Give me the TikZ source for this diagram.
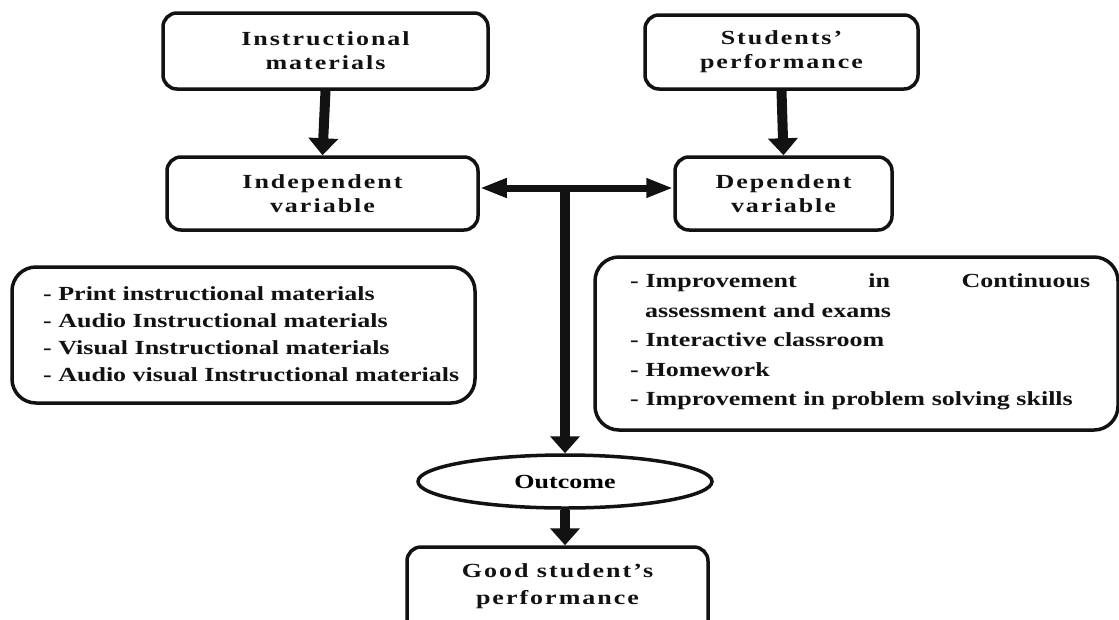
\documentclass[tikz,border=0pt]{standalone}
\usepackage{fontspec}
\setmainfont{Liberation Serif}[FakeStretch=1.3]
\newfontfamily\titlefont{Liberation Serif}[FakeStretch=1.3,LetterSpace=10]
\usetikzlibrary{arrows.meta,shapes.geometric}
\tikzset{
  box/.style={draw=black!93, line width=3.5pt, rounded corners=14pt, align=center, inner sep=0pt,
    font=\titlefont\bfseries\fontsize{20}{24}\selectfont, text=black!93},
  listbox/.style={draw=black!93, line width=3.5pt, rounded corners=24pt, inner sep=0pt},
  listtext/.style={inner sep=0pt, align=left, anchor=west, text=black!93},
  varrow/.style={draw=black!93, line width=10pt, -{Triangle[length=17pt,width=29pt]}},
  harrow/.style={draw=black!93, line width=7pt, {Triangle[length=27pt,width=18pt]}-{Triangle[length=27pt,width=18pt]}},
  vline/.style={draw=black!93, line width=10pt, -{Triangle[length=17pt,width=29pt]}},
}
\begin{document}
\begin{tikzpicture}[x=1pt,y=-1pt]
\clip (0,0) rectangle (1119,619);
\fill[white] (0,0) rectangle (1119,619);
% title boxes
\node[box, minimum width=325pt, minimum height=76pt] (im) at (325.5,51) {Instructional\\materials};
\node[box, minimum width=273pt, minimum height=74pt] (sp) at (781.5,52) {Students’\\performance};
\node[box, minimum width=311pt, minimum height=73pt] (iv) at (322.5,193.5) {Independent\\variable};
\node[box, minimum width=217pt, minimum height=73pt] (dv) at (783.5,193.5) {Dependent\\variable};
% list boxes
\node[listbox, minimum width=463pt, minimum height=136pt] (il) at (243.5,335) {};
\node[listtext, font=\bfseries\fontsize{20}{27}\selectfont] (iltext) at (43,334)
  {- Print instructional materials\\- Audio Instructional materials\\- Visual Instructional materials\\- Audio visual Instructional materials};
\node[listbox, minimum width=523pt, minimum height=173pt] (dl) at (856.5,343.5) {};
\node[listtext, text width=460pt, font=\bfseries\fontsize{20}{29.5}\selectfont] (dltext) at (630,342)
  {\hbox to \linewidth{- Improvement\hfill in\hfill Continuous}\\\hspace*{15pt}assessment and exams\\- Interactive classroom\\- Homework\\- Improvement in problem solving skills};
% outcome
\node[draw=black!93, line width=3.5pt, ellipse, minimum width=294pt, minimum height=53pt, inner sep=0pt,
  font=\bfseries\fontsize{20}{24}\selectfont] (out) at (565,481.5) {Outcome};
\node[box, minimum width=301pt, minimum height=133pt] (good) at (557.5,613.5) {};
\node[inner sep=0pt, align=center, font=\titlefont\bfseries\fontsize{20}{27}\selectfont, text=black!93] (goodtext) at (557.5,586) {Good student’s\\performance};
% connectors
\coordinate (j) at (565,188);
\draw[varrow] (im.south) -- (iv.north);
\draw[varrow] (sp.south) -- (dv.north);
\draw[harrow] (iv.east |- j) -- (dv.west |- j);
\draw[vline] ([yshift=-3.5pt]j) -- (out.north);
\draw[varrow] (out.south) -- (out.south |- good.north);
\end{tikzpicture}
\end{document}
